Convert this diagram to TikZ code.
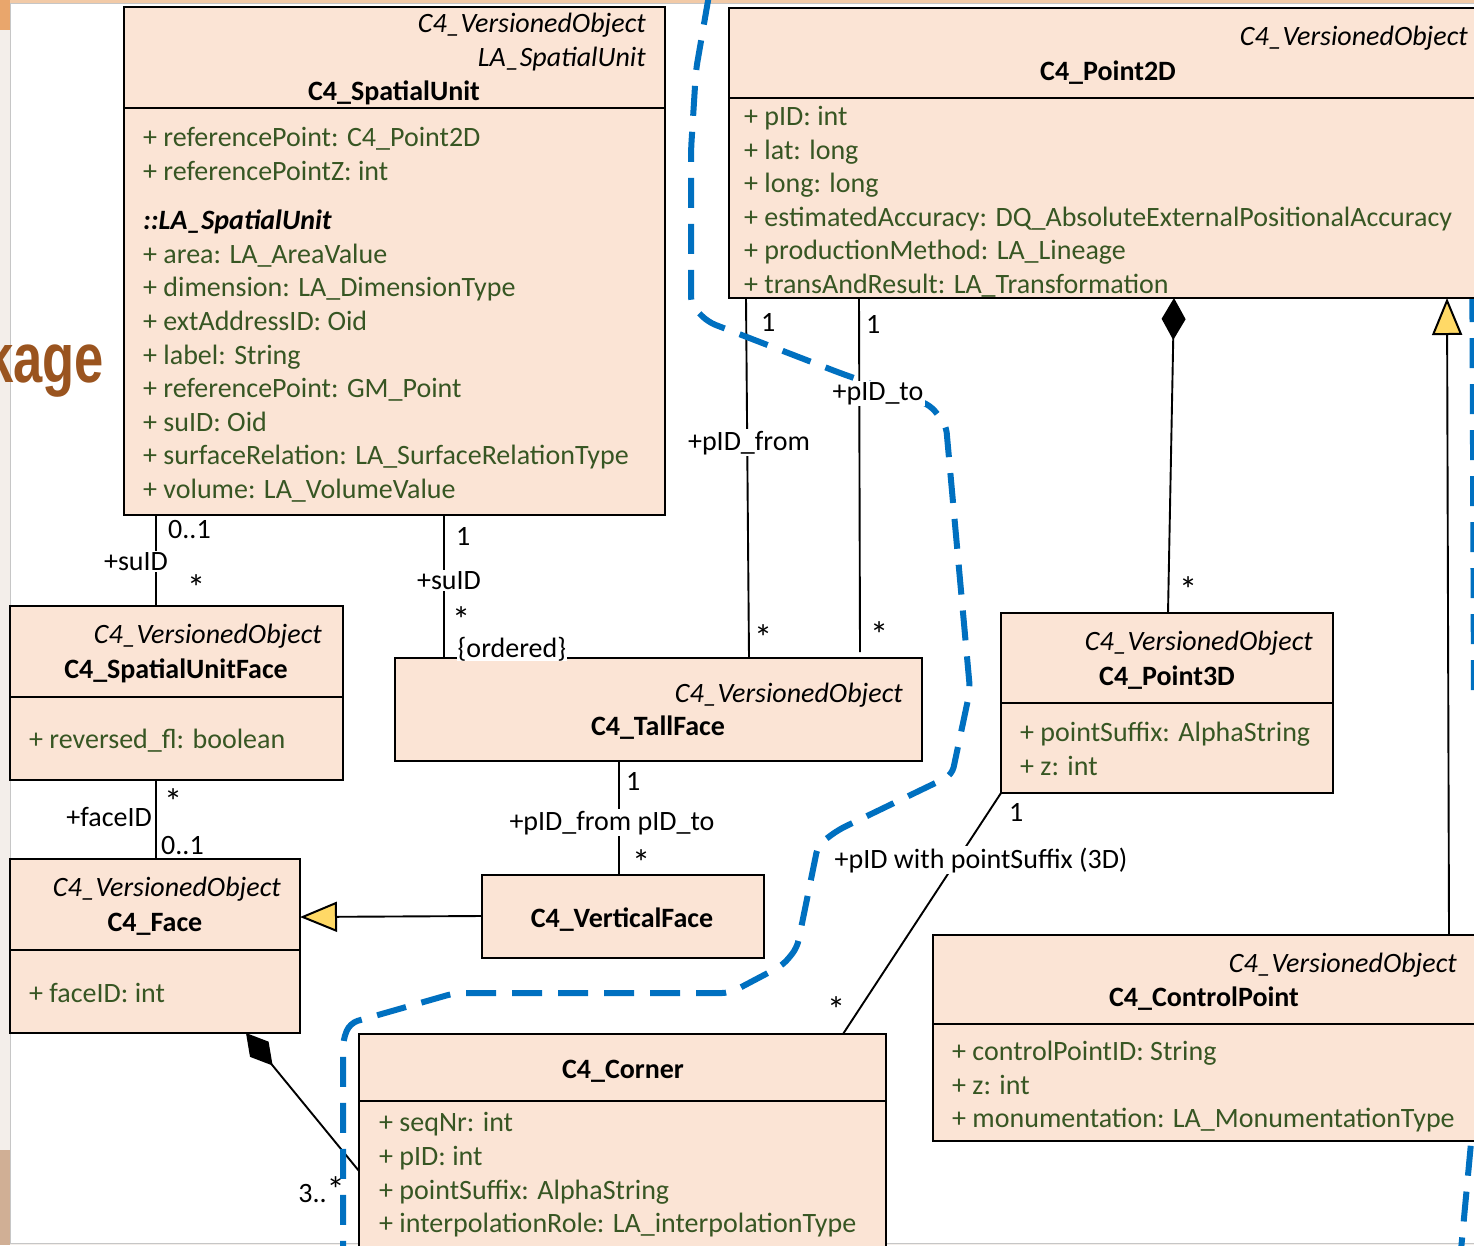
\documentclass[tikz,border=0pt]{standalone}
\usepackage{fontspec}
\setmainfont{Carlito}
\newfontfamily\pkgfont{Liberation Sans}
\usetikzlibrary{arrows.meta}

\definecolor{clsfill}{HTML}{FBE4D5}
\definecolor{attrgreen}{HTML}{375623}
\definecolor{linkblue}{HTML}{0070C0}
\definecolor{genyellow}{HTML}{FFD966}
\definecolor{pkgbrown}{HTML}{9A541F}
\definecolor{edgeorange}{HTML}{E9A66C}
\definecolor{edgebeige}{HTML}{F3EEEA}
\definecolor{edgebrown}{HTML}{B07A4E}

\newcommand\umlsize{\fontsize{28}{33}\selectfont}
\newcommand\mstar{\scalebox{1.3}{*}}

\tikzset{
  cls/.style={draw=black, line width=2.8pt, fill=clsfill, rectangle, inner sep=0pt, outer sep=0pt, anchor=north west},
  compartment/.style={line width=2.8pt},
  stereo/.style={font=\umlsize\itshape, inner sep=0pt, anchor=base east},
  cname/.style={font=\umlsize\bfseries, inner sep=0pt, anchor=base},
  attrtxt/.style={font=\umlsize, text=attrgreen, inner sep=0pt, anchor=base west},
  mult/.style={font=\umlsize, inner sep=0pt, anchor=base west},
  role/.style={font=\umlsize, inner sep=1.5pt, fill=white, anchor=base},
  assoc/.style={draw=black, line width=1.9pt},
  gen/.style={assoc, -{Triangle[length=37pt, width=30pt, fill=genyellow, line width=2pt]}},
  comp/.style={assoc, -{Diamond[length=42pt, width=24pt, fill=black]}},
  trace/.style={draw=linkblue, line width=6pt, dash pattern=on 30pt off 16pt},
}

\begin{document}
\begin{tikzpicture}[x=1pt, y=-1pt]
\useasboundingbox (0,0) rectangle (1474,1245);
\clip (0,0) rectangle (1474,1245);

% backdrop around the sheet
\fill[edgebeige] (0,0) rectangle (1474,1245);
\fill[edgeorange!60] (0,0) rectangle (1474,3);
\fill[edgeorange] (0,0) rectangle (10,30);
\fill[edgebrown!60] (0,1150) rectangle (10,1245);
\fill[white, draw=gray!45, line width=1pt] (10,3) rectangle (1490,1243);

% tracing line running along the right edge (partly under the classes)
\draw[trace] (1472,200) -- (1474,700);
\draw[trace] (1475,1100) -- (1461,1250);

% package title fragment
\node[inner sep=0pt, anchor=base east, text=pkgbrown, font=\pkgfont\bfseries\fontsize{70}{80}\selectfont] (pkg) at (104,382) {\scalebox{0.75}[1]{kage}};

% ---------------- classes ----------------
% C4_SpatialUnit
\node[cls, minimum width=541pt, minimum height=508pt] (su) at (124,7) {};
\draw[compartment] ([yshift=-101pt]su.north west) -- ([yshift=-101pt]su.north east);
\node[stereo] (su-s1) at (646,32) {C4\_VersionedObject};
\node[stereo] (su-s2) at (646,66) {LA\_SpatialUnit};
\node[cname] (su-n) at (394,100) {C4\_SpatialUnit};
\node[attrtxt] (su-a1) at (143,146) {+ referencePoint: C4\_Point2D};
\node[attrtxt] (su-a2) at (143,180) {+ referencePointZ: int};
\node[mult, font=\umlsize\bfseries\itshape] (su-inh) at (143,229) {::LA\_SpatialUnit};
\foreach \t/\yy [count=\i] in {area: LA\_AreaValue/263, dimension: LA\_DimensionType/296, extAddressID: Oid/330, label: String/364, referencePoint: GM\_Point/397, suID: Oid/431, surfaceRelation: LA\_SurfaceRelationType/464, volume: LA\_VolumeValue/498}
  \node[attrtxt] (su-b\i) at (143,\yy) {+ \t};

% C4_Point2D
\node[cls, minimum width=758pt, minimum height=290pt] (p2) at (729,8) {};
\draw[compartment] ([yshift=-90pt]p2.north west) -- ([yshift=-90pt]p2.north east);
\node[stereo] (p2-s) at (1468,45) {C4\_VersionedObject};
\node[cname] (p2-n) at (1108,80) {C4\_Point2D};
\foreach \t/\yy [count=\i] in {pID: int/125, lat: long/159, long: long/192, estimatedAccuracy: DQ\_AbsoluteExternalPositionalAccuracy/226, productionMethod: LA\_Lineage/259, transAndResult: LA\_Transformation/293}
  \node[attrtxt] (p2-a\i) at (744,\yy) {+ \t};

% C4_SpatialUnitFace
\node[cls, minimum width=333pt, minimum height=174pt] (suf) at (10,606) {};
\draw[compartment] ([yshift=-91pt]suf.north west) -- ([yshift=-91pt]suf.north east);
\node[stereo] (suf-s) at (322,643) {C4\_VersionedObject};
\node[cname] (suf-n) at (176,678) {C4\_SpatialUnitFace};
\node[attrtxt] (suf-a1) at (29,748) {+ reversed\_fl: boolean};

% C4_Face
\node[cls, minimum width=290pt, minimum height=174pt] (face) at (10,859) {};
\draw[compartment] ([yshift=-91pt]face.north west) -- ([yshift=-91pt]face.north east);
\node[stereo] (face-s) at (281,896) {C4\_VersionedObject};
\node[cname] (face-n) at (155,931) {C4\_Face};
\node[attrtxt] (face-a1) at (29,1002) {+ faceID: int};

% C4_TallFace
\node[cls, minimum width=527pt, minimum height=103pt] (tf) at (395,658) {};
\node[stereo] (tf-s) at (903,702) {C4\_VersionedObject};
\node[cname] (tf-n) at (658,735) {C4\_TallFace};

% C4_VerticalFace
\node[cls, minimum width=282pt, minimum height=83pt] (vf) at (482,875) {};
\node[cname] (vf-n) at (622,927) {C4\_VerticalFace};

% C4_Point3D
\node[cls, minimum width=332pt, minimum height=180pt] (p3) at (1001,613) {};
\draw[compartment] ([yshift=-90pt]p3.north west) -- ([yshift=-90pt]p3.north east);
\node[stereo] (p3-s) at (1313,650) {C4\_VersionedObject};
\node[cname] (p3-n) at (1167,685) {C4\_Point3D};
\node[attrtxt] (p3-a1) at (1020,741) {+ pointSuffix: AlphaString};
\node[attrtxt] (p3-a2) at (1020,775) {+ z: int};

% C4_ControlPoint
\node[cls, minimum width=543pt, minimum height=206pt] (cp) at (933,935) {};
\draw[compartment] ([yshift=-89pt]cp.north west) -- ([yshift=-89pt]cp.north east);
\node[stereo] (cp-s) at (1457,972) {C4\_VersionedObject};
\node[cname] (cp-n) at (1204,1006) {C4\_ControlPoint};
\node[attrtxt] (cp-a1) at (952,1060) {+ controlPointID: String};
\node[attrtxt] (cp-a2) at (952,1094) {+ z: int};
\node[attrtxt] (cp-a3) at (952,1127) {+ monumentation: LA\_MonumentationType};

% C4_Corner
\node[cls, minimum width=527pt, minimum height=240pt] (corner) at (359,1034) {};
\draw[compartment] ([yshift=-67pt]corner.north west) -- ([yshift=-67pt]corner.north east);
\node[cname] (corner-n) at (623,1078) {C4\_Corner};
\node[attrtxt] (corner-a1) at (379,1131) {+ seqNr: int};
\node[attrtxt] (corner-a2) at (379,1165) {+ pID: int};
\node[attrtxt] (corner-a3) at (379,1199) {+ pointSuffix: AlphaString};
\node[attrtxt] (corner-a4) at (379,1232) {+ interpolationRole: LA\_interpolationType};

% ---------------- connectors ----------------
\coordinate (xA) at (156,0);
\coordinate (xB) at (444,0);
\coordinate (xC1) at (746,0);  \coordinate (xC2) at (749,0);
\coordinate (xD1) at (859,0);  \coordinate (xD2) at (860,0);
\coordinate (xE1) at (1174,0); \coordinate (xE2) at (1168,0);
\coordinate (xF1) at (1447,0); \coordinate (xF2) at (1449,0);
\coordinate (xG) at (619,0);
\coordinate (yH1) at (0,916);  \coordinate (yH2) at (0,917);
\coordinate (xI) at (246,0);   \coordinate (yI) at (0,1171);
\coordinate (xJ) at (843,0);

\draw[assoc] (su.south -| xA) -- (suf.north -| xA);
\draw[assoc] (su.south -| xB) -- (tf.north -| xB);
\draw[assoc] (p2.south -| xC1) -- (tf.north -| xC2);
\draw[assoc] (p2.south -| xD1) -- ([yshift=6pt]tf.north -| xD2);
\draw[comp] (p3.north -| xE2) -- (p2.south -| xE1);
\draw[gen] (cp.north -| xF2) -- (p2.south -| xF1);
\draw[assoc] (suf.south -| xA) -- (face.north -| xA);
\draw[assoc] (tf.south -| xG) -- (vf.north -| xG);
\draw[gen] (vf.west |- yH1) -- (face.east |- yH2);
\draw[comp] (corner.west |- yI) -- (face.south -| xI);
\draw[assoc] (p3.south west) -- (corner.north -| xJ);

% dashed tracing line across the diagram
\draw[trace, rounded corners=8pt] (709,-5) -- (696,70) -- (691,150) -- (691,305) -- (708,322)
  -- (840,373) -- (930,405) -- (946,425) -- (970,690) -- (952,775) -- (838,830) -- (818,845)
  -- (797,948) -- (783,965) -- (730,993) -- (455,993) -- (350,1023) -- (343,1040) -- (343,1250);

% ---------------- association labels ----------------
\node[mult] (m1) at (168,538) {0..1};
\node[role] (r1) at (136,570) {+suID};
\node[mult] (m2) at (187,600) {\mstar};
\node[mult] (m3) at (456,545) {1};
\node[role] (r2) at (449,589) {+suID};
\node[mult] (m4) at (452,632) {\mstar};
\node[role, anchor=base west, inner sep=0.5pt] (r3) at (457,657) {\{ordered\}};
\node[mult] (m5) at (761,331) {1};
\node[role] (r4) at (749,450) {+pID\_from};
\node[mult] (m6) at (754,650) {\mstar};
\node[mult] (m7) at (866,333) {1};
\node[role] (r5) at (878,400) {+pID\_to};
\node[mult] (m8) at (870,647) {\mstar};
\node[mult] (m9) at (1179,602) {\mstar};
\node[mult] (m10) at (164,814) {\mstar};
\node[mult, anchor=base east] (r6) at (152,826) {+faceID};
\node[mult] (m11) at (161,854) {0..1};
\node[mult] (m12) at (626,790) {1};
\node[role] (r7) at (612,830) {+pID\_from pID\_to};
\node[mult] (m13) at (632,875) {\mstar};
\node[mult] (m14) at (1009,821) {1};
\node[role, anchor=base west] (r8) at (833,868) {+pID with pointSuffix (3D)};
\node[mult] (m15) at (827,1022) {\mstar};
\node[mult, anchor=base east] (m16) at (345,1202) {3..\mstar};
\end{tikzpicture}
\end{document}
